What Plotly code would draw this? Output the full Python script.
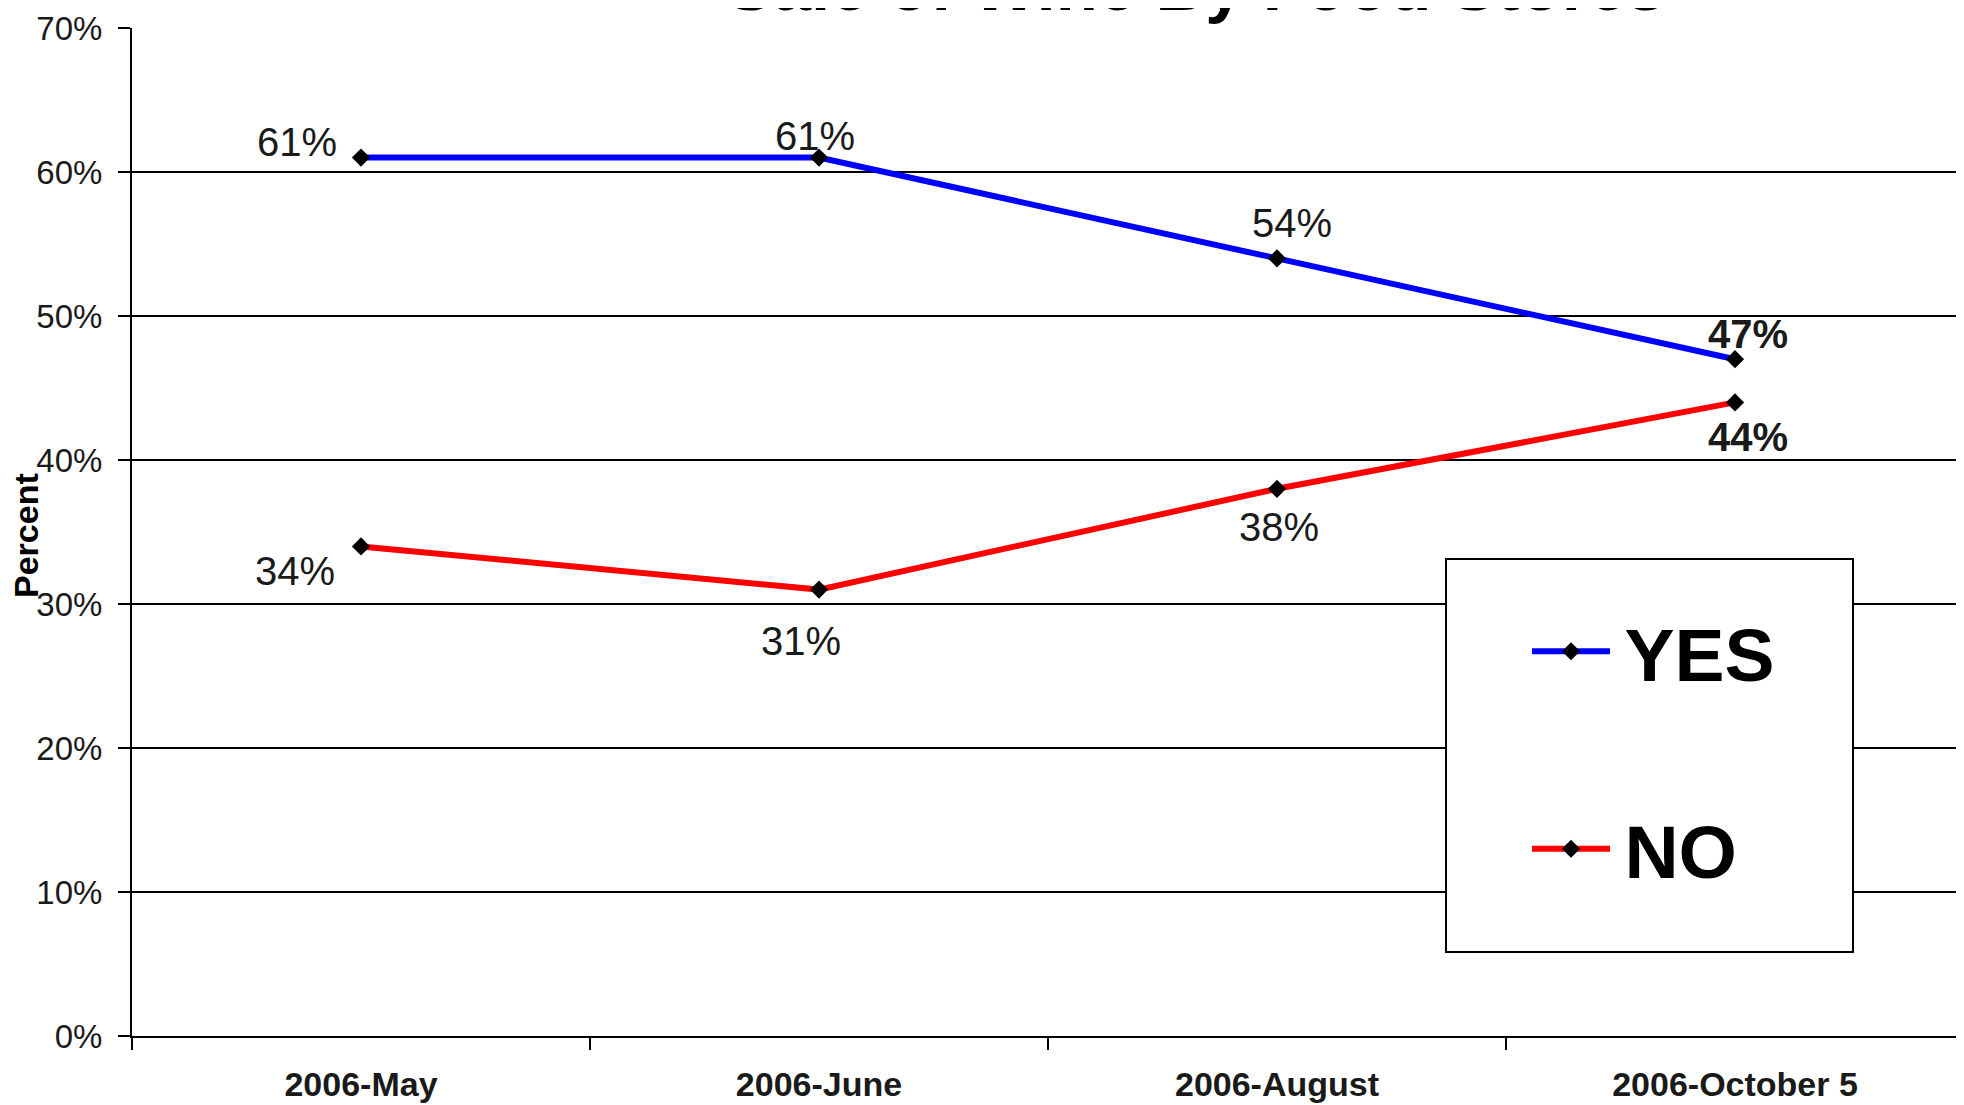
import plotly.graph_objects as go

categories = ["2006-May", "2006-June", "2006-August", "2006-October 5"]
yes_values = [61, 61, 54, 47]
no_values = [34, 31, 38, 44]
yes_labels = ["61%", "61%", "54%", "47%"]
no_labels = ["34%", "31%", "38%", "44%"]
y_ticks = [0, 10, 20, 30, 40, 50, 60, 70]
y_tick_labels = ["0%", "10%", "20%", "30%", "40%", "50%", "60%", "70%"]

# label pixel offsets (style)
yes_shift = [(-64, 16), (-4, 22), (15, 35), (13, 25)]
no_shift = [(-66, -25), (-18, -51), (2, -38), (13, -35)]

FONT = "Liberation Sans, Arial, sans-serif"
PAD = "<span style='font-size:34px'>&nbsp;</span>"

fig = go.Figure()
fig.add_trace(go.Scatter(
    x=categories, y=yes_values, name=PAD + "<b>YES</b>", legendgroup="yes",
    mode="lines+markers",
    line=dict(color="#0000FF", width=6),
    marker=dict(symbol="diamond", size=14, color="black"),
))
fig.add_trace(go.Scatter(
    x=categories, y=no_values, name=PAD + "<b>NO</b>", legendgroup="no",
    mode="lines+markers",
    line=dict(color="#FF0000", width=6),
    marker=dict(symbol="diamond", size=14, color="black"),
))

# page offset of the figure (body margin) is 8px
OFF = 8
W, H = 1964 - OFF, 1105 - OFF
L, T, R, B = 132 - OFF, 28 - OFF, W, 1036 - OFF
def px(x):  # page x -> paper
    return (x - OFF - L) / (R - L)
def py(y):  # page y -> paper
    return (B - (y - OFF)) / (B - T)

annotations = []
for i, c in enumerate(categories):
    last = i == len(categories) - 1
    for vals, labs, shifts in ((yes_values, yes_labels, yes_shift), (no_values, no_labels, no_shift)):
        annotations.append(dict(
            x=c, y=vals[i], xref="x", yref="y", text=("<b>%s</b>" % labs[i]) if last else labs[i],
            showarrow=False, xshift=shifts[i][0], yshift=shifts[i][1],
            font=dict(family=FONT, size=40, color="#1a1a1a"),
        ))
# y-axis title
annotations.append(dict(
    x=px(26), y=py(536), xref="paper", yref="paper", text="<b>Percent</b>",
    textangle=-90, showarrow=False, xanchor="center", yanchor="middle", borderpad=0,
    font=dict(family=FONT, size=34, color="black"),
))

fig.add_shape(type="rect", xref="paper", yref="paper",
              x0=px(1446), x1=px(1853), y0=py(952), y1=py(559),
              line=dict(color="black", width=2), fillcolor="white", layer="above")

fig.update_layout(
    width=W, height=H,
    margin=dict(l=L, r=0, t=T, b=H - B, autoexpand=False),
    paper_bgcolor="white", plot_bgcolor="white",
    title=dict(text="<b>Sale of Wine By Food Stores</b>", xref="paper", x=px(1196), xanchor="center",
               yref="container", y=(H - 2) / H, yanchor="bottom", pad=dict(b=0, t=0),
               font=dict(family=FONT, size=69, color="black")),
    annotations=annotations,
    showlegend=True,
    legend=dict(x=px(1527), xanchor="left", y=py(596), yanchor="top",
                bgcolor="rgba(0,0,0,0)", borderwidth=0, itemwidth=78,
                tracegroupgap=97, traceorder="grouped",
                font=dict(family=FONT, size=75, color="black")),
    font=dict(family=FONT),
)

fig.update_xaxes(
    type="category", range=[-0.5, 3.5], tickson="boundaries",
    ticks="outside", ticklen=12, tickwidth=2, tickcolor="black",
    showline=True, linecolor="black", linewidth=2,
    showgrid=False, zeroline=False, automargin=False,
    tickfont=dict(family=FONT, size=34, color="#1a1a1a"),
    tickprefix="<b>", ticksuffix="</b>", ticklabelstandoff=17,
)
fig.update_yaxes(
    range=[0, 70], tickvals=y_ticks, ticktext=y_tick_labels,
    ticks="outside", ticklen=12, tickwidth=2, tickcolor="black",
    showline=True, linecolor="black", linewidth=2,
    showgrid=True, gridcolor="black", gridwidth=1.5, zeroline=False, automargin=False,
    tickfont=dict(family=FONT, size=33, color="#1a1a1a"), ticklabelstandoff=9,
)

fig.write_html("out.html")
